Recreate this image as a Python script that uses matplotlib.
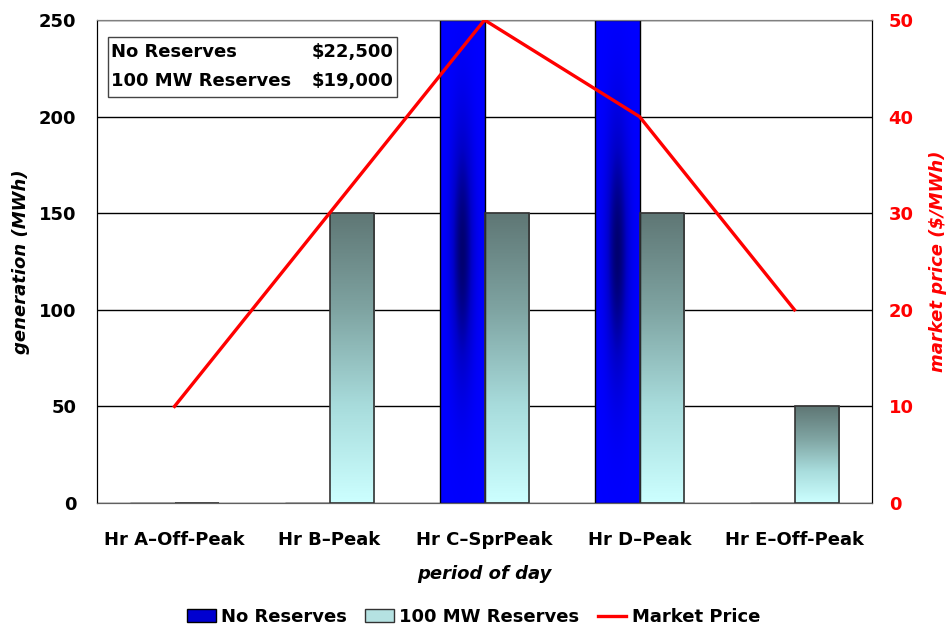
import numpy as np
import matplotlib
matplotlib.use("Agg")
import matplotlib.pyplot as plt
from matplotlib.colors import LinearSegmentedColormap
from matplotlib.patches import Patch
from matplotlib.lines import Line2D

plt.rcParams['font.family'] = ['DejaVu Sans']
plt.rcParams['font.weight'] = 'bold'

# data
periods = ["Hr A\u2013Off-Peak", "Hr B\u2013Peak", "Hr C\u2013SprPeak", "Hr D\u2013Peak", "Hr E\u2013Off-Peak"]
no_reserves = [0, 0, 250, 250, 0]
reserves_100 = [0, 150, 150, 150, 50]
market_price = [10, 30, 50, 40, 20]
cost_labels = ["No Reserves", "100 MW Reserves"]
cost_values = ["$22,500", "$19,000"]

FS = 13

fig = plt.figure(figsize=(9.47, 6.27), dpi=100)
ax = fig.add_axes([97/947, 1-503/627, 775/947, 483/627])
ax2 = ax.twinx()

x = np.arange(len(periods))
w = 0.285

blue_cmap = LinearSegmentedColormap.from_list("bl", ["#0000ff", "#0000c8", "#000070"])
slate_cmap = LinearSegmentedColormap.from_list("sl", ["#ccffff", "#a8dcdc", "#7fa4a2", "#5f7775"])

bars1 = ax.bar(x - w/2, no_reserves, w, facecolor="none", edgecolor="black", linewidth=1, zorder=3)
bars2 = ax.bar(x + w/2, reserves_100, w, facecolor="none", edgecolor="#333333", linewidth=1.2, zorder=3)

# soft dark core for the blue bars
gx = np.linspace(-1, 1, 60)
gy = np.linspace(0, 1, 300)
GX, GY = np.meshgrid(gx, gy)
core = np.exp(-(GX/0.5)**2 - ((GY-0.52)/0.26)**2)
for b in bars1:
    if b.get_height() <= 0:
        continue
    x0, y0 = b.get_x(), b.get_y()
    im = ax.imshow(core, cmap=blue_cmap, origin="lower", aspect="auto",
                   extent=[x0, x0 + b.get_width(), y0, y0 + b.get_height()], zorder=2,
                   vmin=0, vmax=1, interpolation="bilinear")
    im.set_clip_path(b)

vert = np.linspace(0, 1, 200).reshape(-1, 1)
for b in bars2:
    if b.get_height() <= 0:
        continue
    x0, y0 = b.get_x(), b.get_y()
    im = ax.imshow(vert, cmap=slate_cmap, origin="lower", aspect="auto",
                   extent=[x0, x0 + b.get_width(), y0, y0 + b.get_height()], zorder=2,
                   vmin=0, vmax=1)
    im.set_clip_path(b)

ax.set_xlim(-0.5, len(periods) - 0.5)
ax.set_ylim(0, 250)
ax.set_yticks([0, 50, 100, 150, 200, 250])
ax.yaxis.grid(True, color="black", linewidth=1)
ax.set_axisbelow(True)
ax.set_xticks(x)
ax.set_xticklabels(periods, fontsize=FS, fontweight="bold")
ax.tick_params(axis="x", length=0, pad=20)
ax.tick_params(axis="y", length=0, pad=15, labelsize=FS)
ax.set_xlabel("period of day", fontsize=FS, fontweight="bold", style="italic", labelpad=12)
ax.set_ylabel("generation (MWh)", fontsize=FS, fontweight="bold", style="italic", labelpad=6)

ax2.plot(x, market_price, color="red", linewidth=2.4, zorder=5)
ax2.set_ylim(0, 50)
ax2.set_yticks([0, 10, 20, 30, 40, 50])
ax2.tick_params(axis="y", length=0, pad=12, labelsize=FS, labelcolor="red")
ax2.set_ylabel("market price ($/MWh)", fontsize=FS, fontweight="bold", style="italic",
               color="red", labelpad=11)

for a in (ax, ax2):
    a.spines["top"].set_color("#808080")
    a.spines["left"].set_color("black")
    a.spines["right"].set_color("black")
    a.spines["bottom"].set_color("#606060")

# cost box
box = plt.Rectangle((108/947, 1-97/627), 289/947, 60/627, transform=fig.transFigure,
                    facecolor="white", edgecolor="#444444", linewidth=1, zorder=10)
fig.patches.append(box)
for i, (lab, val) in enumerate(zip(cost_labels, cost_values)):
    yy = 1 - (52 + i*29)/627
    fig.text(111/947, yy, lab, fontsize=FS, fontweight="bold", va="center", ha="left", zorder=11)
    fig.text(393/947, yy, val, fontsize=FS, fontweight="bold", va="center", ha="right", zorder=11)

handles = [Patch(facecolor="#0000d0", edgecolor="black"),
           Patch(facecolor="#b5e2e2", edgecolor="#333333"),
           Line2D([0], [0], color="red", linewidth=2.4)]
fig.legend(handles, ["No Reserves", "100 MW Reserves", "Market Price"], loc="center",
           bbox_to_anchor=(0.5, 1-617/627), ncol=3, frameon=False, fontsize=FS,
           handlelength=1.6, handletextpad=0.3, columnspacing=1.0)

fig.savefig("out.png", dpi=100)
